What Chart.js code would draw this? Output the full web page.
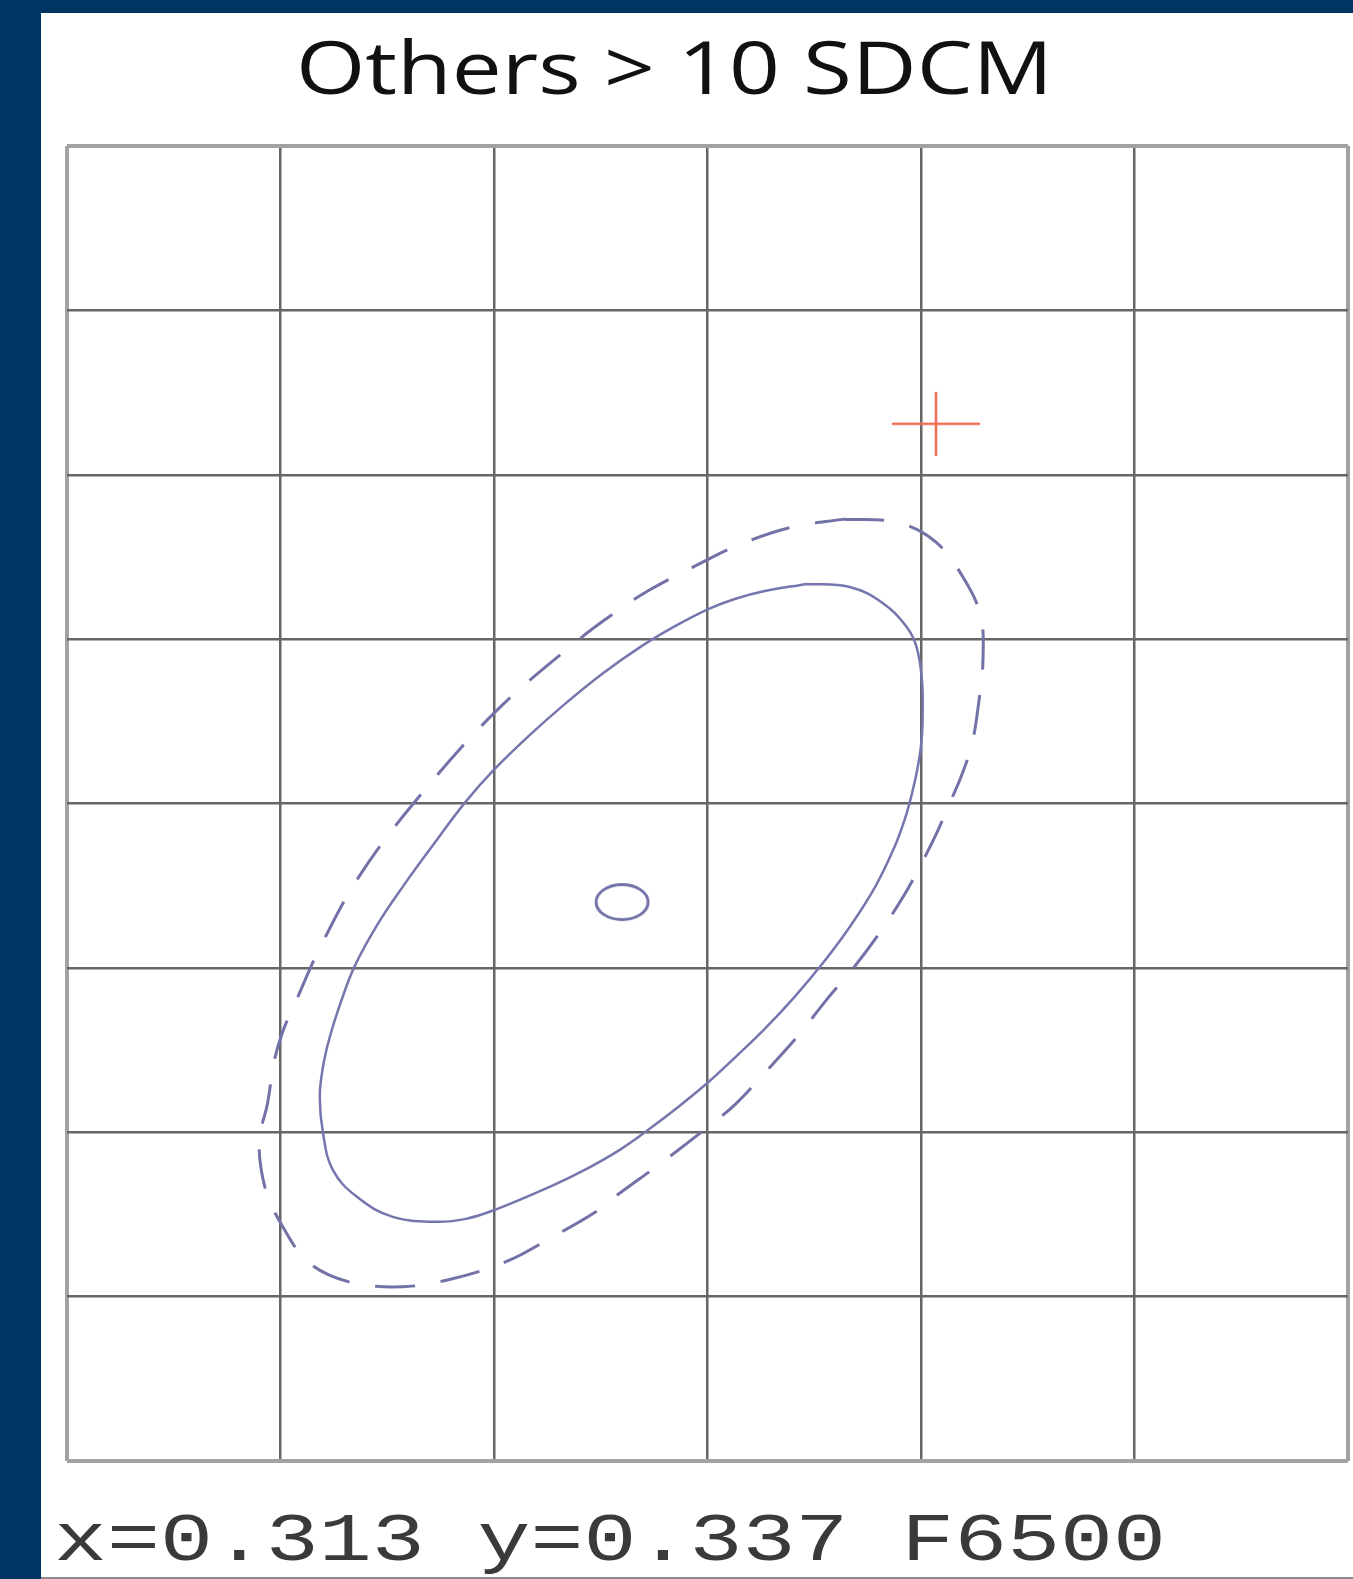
<!DOCTYPE html>
<html>
<head>
<meta charset="utf-8">
<script src="https://cdn.jsdelivr.net/npm/chart.js@4"></script>
<style>
  html, body { margin: 0; padding: 0; }
  body { background: #003462; width: 1353px; height: 1579px; overflow: hidden; }
  #panel { position: absolute; left: 41px; top: 13px; width: 1312px; height: 1564px;
           background: #fff; border-bottom: 2px solid #8a8a8a; }
  canvas { display: block; }
</style>
</head>
<body>
<div id="panel"><canvas id="sdcm" width="1312" height="1564"></canvas></div>
<script>
// grid positions (chromaticity x / y)
const xTicks = [0.287, 0.297, 0.307, 0.317, 0.327, 0.337, 0.347];
const yTicks = [0.303, 0.313, 0.323, 0.333, 0.343, 0.353, 0.363, 0.373, 0.383];

// solid ellipse
const solidX = [0.32164,0.32366,0.32520,0.32633,0.32679,0.32703,0.32708,0.32703,0.32684,0.32656,
                0.32623,0.32576,0.32488,0.32370,0.32249,0.32108,0.31968,0.31837,0.31706,0.31570,
                0.31429,0.31289,0.31125,0.30961,0.30704,0.30568,0.30432,0.30226,0.30058,0.29945,
                0.29899,0.29884,0.29899,0.29931,0.29983,0.30048,0.30156,0.30282,0.30420,0.30563,
                0.30699,0.30863,0.31027,0.31209,0.31393,0.31546,0.31704,0.31831,0.31958,0.32164];
const solidY = [0.35636,0.35617,0.35520,0.35374,0.35253,0.35070,0.34888,0.34687,0.34517,0.34352,
                0.34200,0.34036,0.33799,0.33556,0.33343,0.33124,0.32929,0.32765,0.32607,0.32461,
                0.32321,0.32193,0.32071,0.31968,0.31828,0.31773,0.31755,0.31785,0.31907,0.32071,
                0.32296,0.32515,0.32698,0.32880,0.33093,0.33312,0.33568,0.33811,0.34057,0.34304,
                0.34504,0.34711,0.34900,0.35091,0.35259,0.35378,0.35483,0.35546,0.35590,0.35636];

// dashed ellipse
const dashX = [0.3234,0.3259,0.3277,0.3290,0.3298,0.3299,0.3297,0.3294,0.3289,0.3283,
               0.3277,0.3270,0.3262,0.3251,0.3239,0.3226,0.3212,0.3196,0.3183,0.3170,
               0.3148,0.3129,0.3117,0.3097,0.3077,0.3051,0.3027,0.3002,0.2983,0.2970,
               0.2963,0.2960,0.2964,0.2967,0.2971,0.2978,0.2988,0.3006,0.3031,0.3070,
               0.3110,0.3131,0.3143,0.3162,0.3184,0.3209,0.3234];
const dashY = [0.3603,0.3601,0.3589,0.3567,0.3544,0.3516,0.3491,0.3467,0.3447,0.3429,
               0.3411,0.3393,0.3374,0.3352,0.3331,0.3311,0.3288,0.3265,0.3247,0.3233,
               0.3211,0.3193,0.3181,0.3166,0.3152,0.3141,0.3136,0.3139,0.3151,0.3175,
               0.3195,0.3224,0.3248,0.3273,0.3291,0.3312,0.3341,0.3384,0.3428,0.3485,
               0.3530,0.3550,0.3560,0.3573,0.3587,0.3598,0.3603];

// target point (F6500) and measured point
const targetX = [0.313];
const targetY = [0.337];
const measX = [0.3277];
const measY = [0.3661];

const titleText = 'Others > 10 SDCM';
const footText = 'x=0.313 y=0.337 F6500';

function pairs(xs, ys) {
    return xs.map((x, i) => ({ x: x, y: ys[i] }));
}

// small oval marker for the target
function ovalMarker() {
    const c = document.createElement('canvas');
    c.width = 60; c.height = 44;
    const g = c.getContext('2d');
    g.strokeStyle = '#7272a8';
    g.lineWidth = 3;
    g.beginPath();
    g.ellipse(30, 22, 26, 17.5, 0, 0, Math.PI * 2);
    g.stroke();
    return c;
}

// plus marker, wider than tall like in the source
function crossMarker() {
    const c = document.createElement('canvas');
    c.width = 90; c.height = 66;
    const g = c.getContext('2d');
    g.strokeStyle = 'rgb(240,110,85)';
    g.lineWidth = 2.5;
    g.beginPath();
    g.moveTo(1, 33); g.lineTo(89, 33);
    g.moveTo(45, 1); g.lineTo(45, 65);
    g.stroke();
    return c;
}

const textPlugin = {
    id: 'texts',
    afterDraw(chart) {
        const ctx = chart.ctx;
        ctx.save();
        // title
        ctx.font = '73px "Open Sans"';
        ctx.fillStyle = '#111';
        ctx.textBaseline = 'alphabetic';
        let w = ctx.measureText(titleText).width;
        let sx = 757 / w;
        ctx.translate(633.5, 81);
        ctx.scale(sx, 1);
        ctx.textAlign = 'center';
        ctx.fillText(titleText, 0, 0);
        ctx.restore();

        // footer
        ctx.save();
        ctx.font = '68px "Liberation Mono"';
        ctx.fillStyle = '#3a3a3a';
        w = ctx.measureText(footText).width;
        sx = 1112 / w;
        ctx.translate(13, 1547);
        ctx.scale(sx, 1);
        ctx.textAlign = 'left';
        ctx.fillText(footText, 0, 0);
        ctx.restore();
    }
};

function gridColor(n) {
    return (c) => (c.index === 0 || c.index === n - 1) ? '#a2a2a2' : '#666';
}
function gridWidth(n) {
    return (c) => (c.index === 0 || c.index === n - 1) ? 4 : 2.5;
}

const ctx = document.getElementById('sdcm').getContext('2d');
new Chart(ctx, {
    type: 'scatter',
    data: {
        datasets: [{
            label: '10 SDCM',
            data: pairs(solidX, solidY),
            showLine: true,
            borderColor: '#7676ae',
            borderWidth: 2.5,
            pointRadius: 0,
            tension: 0.4,
            fill: false
        }, {
            label: 'outer',
            data: pairs(dashX, dashY),
            showLine: true,
            borderColor: '#7272a8',
            borderWidth: 3,
            borderDash: [40, 26],
            pointRadius: 0,
            tension: 0.35,
            fill: false
        }, {
            label: 'F6500',
            data: pairs(targetX, targetY),
            pointStyle: ovalMarker(),
            pointRadius: 20
        }, {
            label: 'measured',
            data: pairs(measX, measY),
            pointStyle: crossMarker(),
            pointRadius: 30
        }]
    },
    options: {
        responsive: false,
        animation: false,
        devicePixelRatio: 1,
        events: [],
        layout: { autoPadding: false, padding: { left: 26, right: 5, top: 133, bottom: 116 } },
        plugins: {
            legend: { display: false },
            title: { display: false },
            tooltip: { enabled: false }
        },
        scales: {
            x: {
                type: 'linear',
                min: xTicks[0],
                max: xTicks[xTicks.length - 1],
                afterBuildTicks: (axis) => { axis.ticks = xTicks.map(v => ({ value: v })); },
                ticks: { display: false },
                border: { display: false },
                grid: { drawTicks: false, color: gridColor(xTicks.length), lineWidth: gridWidth(xTicks.length) }
            },
            y: {
                type: 'linear',
                min: yTicks[0],
                max: yTicks[yTicks.length - 1],
                afterBuildTicks: (axis) => { axis.ticks = yTicks.map(v => ({ value: v })); },
                ticks: { display: false },
                border: { display: false },
                grid: { drawTicks: false, color: gridColor(yTicks.length), lineWidth: gridWidth(yTicks.length) }
            }
        }
    },
    plugins: [textPlugin]
});
</script>
</body>
</html>
